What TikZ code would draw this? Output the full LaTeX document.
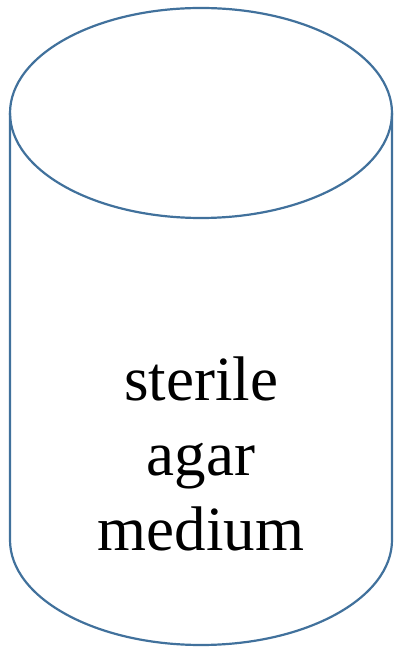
\documentclass[tikz,border=0pt]{standalone}
\usepackage{fontspec}
\setmainfont{Liberation Serif}
\definecolor{rim}{HTML}{41719C}
\begin{document}
\begin{tikzpicture}[x=1pt, y=1pt, every node/.style={align=center}]
    \useasboundingbox (0,0) rectangle (395,648);
    % body of the jar
    \draw[rim, line width=2.2pt] (10,535) -- (10,108) arc[start angle=180, end angle=360, x radius=191, y radius=105] -- (392,535);
    % top face
    \draw[rim, line width=2.2pt] (201,535) ellipse[x radius=191, y radius=105];
    \node[font=\fontsize{63}{75}\selectfont, inner sep=0pt] (medium) at (201,194.5) {sterile\\agar\\medium};
  \end{tikzpicture}
\end{document}
